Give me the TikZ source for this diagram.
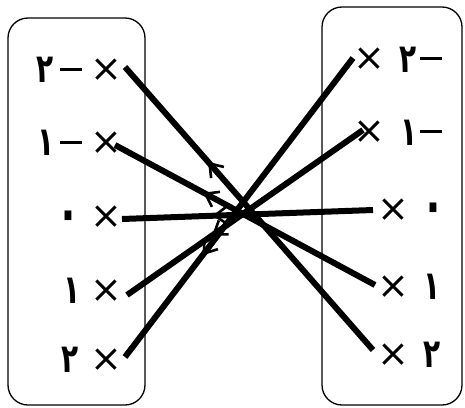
\documentclass[tikz,border=0pt]{standalone}
\usepackage{fontspec}
\newfontfamily\arfont[Script=Arabic]{DejaVu Sans}
\usetikzlibrary{arrows.meta,decorations.markings}
\newcommand\dgt[1]{\scalebox{0.7}[1]{#1}}
\tikzset{
  setbox/.style={draw=black,line width=1.3pt,rounded corners=20pt},
  digit/.style={font=\arfont\bfseries\fontsize{40}{40}\selectfont,inner sep=0pt},
  zero/.style={font=\arfont\bfseries\fontsize{56}{56}\selectfont,inner sep=0pt},
  dashlbl/.style={fill=black,minimum width=22pt,minimum height=3pt,inner sep=0pt},
  cross/.style={font=\arfont\fontsize{38}{38}\selectfont,inner sep=0pt},
  mapline/.style={line width=6pt,postaction={decorate},
    decoration={markings,mark=at position #1 with {\arrow{Straight Barb[length=12pt,width=17pt,line width=2.6pt]}}}}
}
\begin{document}
\begin{tikzpicture}[x=1pt,y=-1pt]
\useasboundingbox (0,0) rectangle (465,407);
% boxes
\draw[setbox] (8,18) rectangle (145,405);
\draw[setbox] (322,7) rectangle (462,405);
% left labels
\node[cross] (lx1) at (106,70) {×};
\node[cross] (lx2) at (106,143) {×};
\node[cross] (lx3) at (106,217) {×};
\node[cross] (lx4) at (106,291) {×};
\node[cross] (lx5) at (106,360) {×};
\node[digit] (ld1) at (45,70) {\dgt{٢}};
\node[dashlbl] (lm1) at (71,69) {};
\node[digit] (ld2) at (46,143) {\dgt{١}};
\node[dashlbl] (lm2) at (71,142) {};
\node[zero] (ld3) at (68,221) {\dgt{٠}};
\node[digit] (ld4) at (72,291) {\dgt{١}};
\node[digit] (ld5) at (70,360) {\dgt{٢}};
% right labels
\node[cross] (rx1) at (369,59) {×};
\node[cross] (rx2) at (369,132) {×};
\node[cross] (rx3) at (393,210) {×};
\node[cross] (rx4) at (393,287) {×};
\node[cross] (rx5) at (393,355) {×};
\node[digit] (rd1) at (408,60) {\dgt{٢}};
\node[dashlbl] (rm1) at (431,58) {};
\node[digit] (rd2) at (409,133) {\dgt{١}};
\node[dashlbl] (rm2) at (431,131) {};
\node[zero] (rd3) at (433,213) {\dgt{٠}};
\node[digit] (rd4) at (432,287) {\dgt{١}};
\node[digit] (rd5) at (432,355) {\dgt{٢}};
% line endpoints
\coordinate (La) at (125,67);
\coordinate (Lb) at (115,145);
\coordinate (Lc) at (122,219);
\coordinate (Ld) at (127,295);
\coordinate (Le) at (125,357);
\coordinate (Ra) at (353,58);
\coordinate (Rb) at (363,130);
\coordinate (Rc) at (373,210);
\coordinate (Rd) at (375,285);
\coordinate (Re) at (373,350);
% mapping lines
\draw[mapline=0.665] (Re) -- (La);
\draw[mapline=0.66] (Rd) -- (Lb);
\draw[mapline=0.64] (Rc) -- (Lc);
\draw[mapline=0.64] (Rb) -- (Ld);
\draw[mapline=0.66] (Ra) -- (Le);
\end{tikzpicture}
\end{document}
